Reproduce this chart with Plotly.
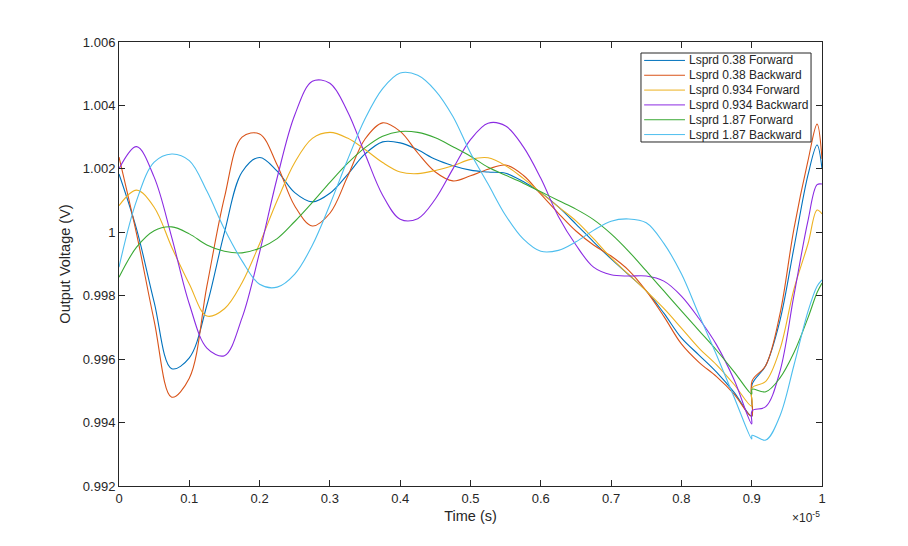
import plotly.graph_objs as go

# time axis is in units of 1e-5 s (the x10^-5 multiplier is drawn as a label)
t = [0, 0.025, 0.05, 0.075, 0.1, 0.125, 0.15, 0.175, 0.2, 0.225, 0.25, 0.275, 0.3, 0.325,
     0.35, 0.375, 0.4, 0.425, 0.45, 0.475, 0.5, 0.525, 0.55, 0.575, 0.6, 0.625, 0.65, 0.675,
     0.7, 0.725, 0.75, 0.775, 0.8, 0.825, 0.85, 0.875, 0.9,
     0.9005, 0.92, 0.94, 0.96, 0.98, 0.993, 1.0]

v_038f = [1.00184, 1.0001, 0.9978, 0.9957, 0.99604, 0.9977, 1.0000, 1.0019, 1.00236, 1.00193,
          1.00125, 1.00096, 1.00123, 1.00182, 1.00247, 1.00285, 1.00282, 1.0026, 1.0023, 1.0021,
          1.00196, 1.0019, 1.00186, 1.0016, 1.00125, 1.0008, 1.00026, 0.9997, 0.99916, 0.99866,
          0.99815, 0.99745, 0.99667, 0.99613, 0.99559, 0.99495, 0.9942,
          0.9952, 0.9958, 0.9972, 0.9995, 1.0018, 1.00275, 1.0020]

v_038b = [1.00237, 0.99995, 0.99721, 0.9948, 0.9954, 0.9983, 1.0011, 1.0030, 1.0031, 1.00212,
          1.00083, 1.0002, 1.0006, 1.00175, 1.00294, 1.00345, 1.00318, 1.0025, 1.0019, 1.00162,
          1.00178, 1.00199, 1.00212, 1.0018, 1.0012, 1.0006, 1.00004, 0.9996, 0.99925, 0.9988,
          0.99815, 0.99735, 0.99648, 0.9959, 0.99545, 0.9949, 0.9942,
          0.99531, 0.9958, 0.9974, 1.0001, 1.00225, 1.00341, 1.00231]

v_0934f = [1.00084, 1.00133, 1.00079, 0.99953, 0.99837, 0.99736, 0.99759, 0.99841, 0.99964, 1.001,
           1.0022, 1.00296, 1.00315, 1.00297, 1.00261, 1.0022, 1.0019, 1.00185, 1.00195, 1.0021,
           1.0023, 1.00235, 1.0021, 1.0017, 1.00125, 1.0008, 1.00036, 0.9998, 0.99919, 0.99867,
           0.99815, 0.9976, 0.99698, 0.99635, 0.99582, 0.9952, 0.99452,
           0.99509, 0.9953, 0.9963, 0.9982, 0.99963, 1.0007, 1.00058]

v_0934b = [1.0020, 1.0027, 1.00174, 0.99984, 0.99774, 0.99635, 0.99611, 0.9973, 0.99937, 1.00172,
           1.0037, 1.00476, 1.0047, 1.00381, 1.00247, 1.00117, 1.00041, 1.00043, 1.00105, 1.002,
           1.00292, 1.00344, 1.00335, 1.0027, 1.0017, 1.0005, 0.9996, 0.9989, 0.99866, 0.99862,
           0.99862, 0.99846, 0.99799, 0.99728, 0.99645, 0.99535, 0.99396,
           0.99437, 0.9945, 0.9956, 0.9980, 1.00036, 1.0015, 1.00152]

v_187f = [0.99858, 0.99953, 1.00005, 1.00017, 0.99995, 0.9996, 0.9994, 0.99935, 0.9995, 0.9998,
          1.00034, 1.00094, 1.00157, 1.00217, 1.00267, 1.00303, 1.00318, 1.00315, 1.00298, 1.0027,
          1.0024, 1.00205, 1.0018, 1.00155, 1.00128, 1.001, 1.00073, 1.0004, 0.99995, 0.9994,
          0.99878, 0.99815, 0.99752, 0.9969, 0.99628, 0.9956, 0.9949,
          0.99505, 0.99497, 0.9954, 0.9962, 0.9973, 0.9981, 0.9984]

v_187b = [0.9989, 1.001, 1.00221, 1.00247, 1.00226, 1.0013, 1.0001, 0.9991, 0.99836, 0.99827,
          0.99868, 0.99959, 1.00087, 1.00228, 1.00358, 1.00453, 1.00502, 1.00495, 1.00447, 1.00365,
          1.0025, 1.00152, 1.00053, 0.99979, 0.9994, 0.99943, 0.9997, 1.00006, 1.00035, 1.00042,
          1.0003, 0.99965, 0.99869, 0.9974, 0.99613, 0.9948, 0.99348,
          0.9936, 0.99345, 0.9942, 0.9958, 0.9975, 0.9983, 0.9985]

names = ["Lsprd 0.38 Forward", "Lsprd 0.38 Backward", "Lsprd 0.934 Forward",
         "Lsprd 0.934 Backward", "Lsprd 1.87 Forward", "Lsprd 1.87 Backward"]
colours = ["#0072BD", "#D95319", "#EDB120", "#8B2BE2", "#3AA935", "#4DBEEE"]
values = [v_038f, v_038b, v_0934f, v_0934b, v_187f, v_187b]

font = "Liberation Sans, Arial, sans-serif"
ink = "#262626"

data = []
for v, name, col in zip(values, names, colours):
    data.append(go.Scatter(x=t, y=v, mode="lines", name=name, showlegend=False,
                           line=dict(color=col, width=1.1, shape="spline", smoothing=1)))

# MATLAB-style legend box (compact rows, which the built-in legend can't do)
box_x0, box_x1, box_y0, box_y1 = 0.7425, 0.9844, 0.7748, 0.9752
row_h = (box_y1 - box_y0) / 6
shapes = [dict(type="rect", xref="paper", yref="paper", x0=box_x0, x1=box_x1, y0=box_y0, y1=box_y1,
               line=dict(color=ink, width=1), fillcolor="white", layer="above")]
annotations = []
for i, (name, col) in enumerate(zip(names, colours)):
    yc = box_y1 - row_h * (i + 0.5)
    shapes.append(dict(type="line", xref="paper", yref="paper", x0=box_x0 + 0.0045, x1=box_x0 + 0.0626,
                       y0=yc, y1=yc, line=dict(color=col, width=1), layer="above"))
    annotations.append(dict(text=name, x=box_x0 + 0.0655, y=yc, xref="paper", yref="paper",
                            xanchor="left", yanchor="middle", showarrow=False,
                            font=dict(family=font, size=12, color=ink)))

annotations.append(dict(text="×10<sup>-5</sup>", x=1, y=-0.07, xref="paper", yref="paper",
                        xanchor="right", yanchor="middle", showarrow=False,
                        font=dict(family=font, size=12, color=ink)))

axis_style = dict(showgrid=False, zeroline=False, showline=True, linecolor=ink, linewidth=1,
                  mirror="ticks", ticks="inside", ticklen=6, tickcolor=ink,
                  tickfont=dict(family=font, size=13, color=ink))

layout = go.Layout(
    width=908, height=546,
    paper_bgcolor="white", plot_bgcolor="white",
    margin=dict(l=111, r=94, t=34, b=68),
    font=dict(family=font, color=ink),
    showlegend=False,
    xaxis=dict(range=[0, 1], dtick=0.1, tick0=0,
               title=dict(text="Time (s)", font=dict(size=14.5, color=ink), standoff=6),
               **axis_style),
    yaxis=dict(range=[0.992, 1.006], dtick=0.002, tick0=0.992,
               title=dict(text="Output Voltage (V)", font=dict(size=14.5, color=ink), standoff=8),
               **axis_style),
    shapes=shapes,
    annotations=annotations,
)

fig = go.Figure(data=data, layout=layout)
fig.write_html("out.html")
